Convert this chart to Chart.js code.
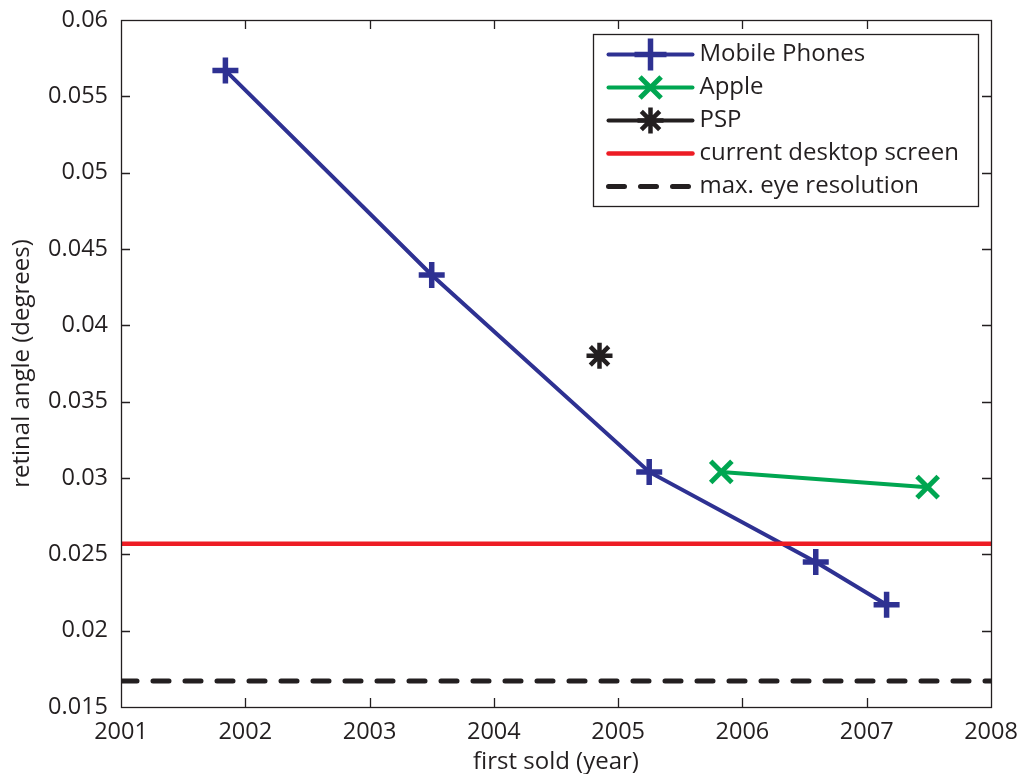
<!DOCTYPE html>
<html>
<head>
<meta charset="utf-8">
<script src="https://cdn.jsdelivr.net/npm/chart.js@4/dist/chart.umd.min.js"></script>
<style>
  html, body { margin: 0; padding: 0; background: #ffffff; overflow: hidden; }
  #wrap { width: 1018px; height: 774px; position: relative; }
</style>
</head>
<body>
<div id="wrap"><canvas id="chart"></canvas></div>
<script>
// Retinal angle of one pixel for handheld screens, by first sale year
const mobileYears  = [2001.84, 2003.50, 2005.25, 2006.59, 2007.16];
const mobileAngles = [0.0567, 0.0433, 0.0304, 0.0245, 0.0217];

const appleYears  = [2005.83, 2007.49];
const appleAngles = [0.0304, 0.0294];

const pspYears  = [2004.85];
const pspAngles = [0.0380];

const desktopAngle = 0.0257;   // current desktop screen
const eyeLimitAngle = 0.0167;  // max. eye resolution

const xTickValues = [2001, 2002, 2003, 2004, 2005, 2006, 2007, 2008];
const yTickValues = [0.015, 0.02, 0.025, 0.03, 0.035, 0.04, 0.045, 0.05, 0.055, 0.06];

const seriesNames = ['Mobile Phones', 'Apple', 'PSP', 'current desktop screen', 'max. eye resolution'];

const INK = '#231f20';
const FONT = '"Open Sans", "DejaVu Sans", sans-serif';

const toXY = (xs, ys) => xs.map((x, i) => ({ x, y: ys[i] }));
const xMin = xTickValues[0], xMax = xTickValues[xTickValues.length - 1];

const datasets = [
  {
    label: seriesNames[0],
    data: toXY(mobileYears, mobileAngles),
    borderColor: '#2e3192', backgroundColor: '#2e3192',
    borderWidth: 4,
    pointStyle: 'cross', pointRadius: 13, pointBorderWidth: 5.5,
    order: 4
  },
  {
    label: seriesNames[1],
    data: toXY(appleYears, appleAngles),
    borderColor: '#00a651', backgroundColor: '#00a651',
    borderWidth: 4,
    pointStyle: 'crossRot', pointRadius: 15, pointBorderWidth: 5,
    order: 3
  },
  {
    label: seriesNames[2],
    data: toXY(pspYears, pspAngles),
    borderColor: INK, backgroundColor: INK,
    borderWidth: 4,
    pointStyle: 'star', pointRadius: 13, pointBorderWidth: 4.5,
    order: 2
  },
  {
    label: seriesNames[3],
    data: [{ x: xMin, y: desktopAngle }, { x: xMax, y: desktopAngle }],
    borderColor: '#ed1c24', backgroundColor: '#ed1c24',
    borderWidth: 4.5, pointRadius: 0,
    order: 0
  },
  {
    label: seriesNames[4],
    data: [{ x: xMin, y: eyeLimitAngle }, { x: xMax, y: eyeLimitAngle }],
    borderColor: INK, backgroundColor: INK,
    borderWidth: 5, borderDash: [16, 16], borderCapStyle: 'round', pointRadius: 0,
    order: 1
  }
];

// Closed axes box with inward tick marks on all four sides
const boxAndTicks = {
  id: 'boxAndTicks',
  afterDatasetsDraw(chart) {
    const { ctx, chartArea: a, scales } = chart;
    const len = 9;
    ctx.save();
    ctx.strokeStyle = INK;
    ctx.lineWidth = 1.3;
    ctx.beginPath();
    scales.x.ticks.forEach(t => {
      const px = Math.round(scales.x.getPixelForValue(t.value)) + 0.5;
      if (px <= a.left + 1 || px >= a.right - 1) return;
      ctx.moveTo(px, a.bottom); ctx.lineTo(px, a.bottom - len);
      ctx.moveTo(px, a.top); ctx.lineTo(px, a.top + len);
    });
    scales.y.ticks.forEach(t => {
      const py = Math.round(scales.y.getPixelForValue(t.value)) + 0.5;
      if (py <= a.top + 1 || py >= a.bottom - 1) return;
      ctx.moveTo(a.left, py); ctx.lineTo(a.left + len, py);
      ctx.moveTo(a.right, py); ctx.lineTo(a.right - len, py);
    });
    ctx.stroke();
    ctx.strokeRect(Math.round(a.left) + 0.5, Math.round(a.top) + 0.5,
                   Math.round(a.right - a.left), Math.round(a.bottom - a.top));
    ctx.restore();
  }
};

// Boxed legend in the upper right corner of the plot
const insetLegend = {
  id: 'insetLegend',
  afterDraw(chart) {
    const { ctx, chartArea: a } = chart;
    const w = 385, h = 172;
    const left = Math.round(a.right - 13 - w) + 0.5;
    const top = Math.round(a.top + 14) + 0.5;
    ctx.save();
    ctx.fillStyle = '#ffffff';
    ctx.fillRect(left, top, w, h);
    ctx.strokeStyle = INK;
    ctx.lineWidth = 1.3;
    ctx.strokeRect(left, top, w, h);

    const rowGap = 33;
    const x0 = left + 15, x1 = left + 99, xm = (x0 + x1) / 2;
    chart.data.datasets.forEach((ds, i) => {
      const y = top + 20 + i * rowGap;
      ctx.save();
      ctx.strokeStyle = ds.borderColor;
      ctx.lineWidth = ds.borderWidth;
      ctx.lineCap = ds.borderCapStyle || 'round';
      ctx.setLineDash(ds.borderDash || []);
      ctx.beginPath();
      ctx.moveTo(x0, y); ctx.lineTo(x1, y);
      ctx.stroke();
      ctx.setLineDash([]);
      if (ds.pointRadius > 0) {
        ctx.lineWidth = ds.pointBorderWidth;
        ctx.fillStyle = ds.backgroundColor;
        ctx.lineCap = 'butt';
        Chart.helpers.drawPoint(ctx, {
          pointStyle: ds.pointStyle,
          radius: ds.pointStyle === 'cross' ? 16 : ds.pointRadius,
          rotation: 0,
          borderWidth: ds.pointBorderWidth
        }, xm, y);
      }
      ctx.restore();
      ctx.fillStyle = INK;
      ctx.font = '24px ' + FONT;
      ctx.textBaseline = 'middle';
      ctx.textAlign = 'left';
      ctx.fillText(ds.label, left + 106, y);
    });
    ctx.restore();
  }
};

const fmtAngle = v => String(Number(v.toFixed(3)));

new Chart(document.getElementById('chart'), {
  type: 'line',
  data: { datasets },
  options: {
    responsive: true,
    maintainAspectRatio: false,
    animation: false,
    layout: { padding: { top: 20, right: 27, left: 0, bottom: 0 } },
    plugins: { legend: { display: false }, tooltip: { enabled: false } },
    elements: { line: { tension: 0 } },
    scales: {
      x: {
        type: 'linear',
        min: xMin, max: xMax,
        afterBuildTicks: s => { s.ticks = xTickValues.map(v => ({ value: v })); },
        afterFit: s => { s.height = 67; s.paddingLeft = 0; s.paddingRight = 0; },
        grid: { display: false, drawTicks: false },
        border: { display: false },
        ticks: {
          autoSkip: false, maxRotation: 0, padding: 11,
          color: INK, font: { family: FONT, size: 23.5 },
          callback: v => String(v)
        },
        title: {
          display: true, text: 'first sold (year)', color: INK,
          font: { family: FONT, size: 24, lineHeight: 1 },
          padding: { top: 0, bottom: 0 }
        }
      },
      y: {
        type: 'linear',
        min: yTickValues[0], max: yTickValues[yTickValues.length - 1],
        afterBuildTicks: s => { s.ticks = yTickValues.map(v => ({ value: v })); },
        afterFit: s => { s.width = 121; s.paddingTop = 0; s.paddingBottom = 0; },
        grid: { display: false, drawTicks: false },
        border: { display: false },
        ticks: {
          autoSkip: false, padding: 13,
          color: INK, font: { family: FONT, size: 23.5 },
          callback: v => fmtAngle(v)
        },
        title: {
          display: true, text: 'retinal angle (degrees)', color: INK,
          font: { family: FONT, size: 24, lineHeight: 1 },
          padding: { top: 10, bottom: 0 }
        }
      }
    }
  },
  plugins: [boxAndTicks, insetLegend]
});
</script>
</body>
</html>
